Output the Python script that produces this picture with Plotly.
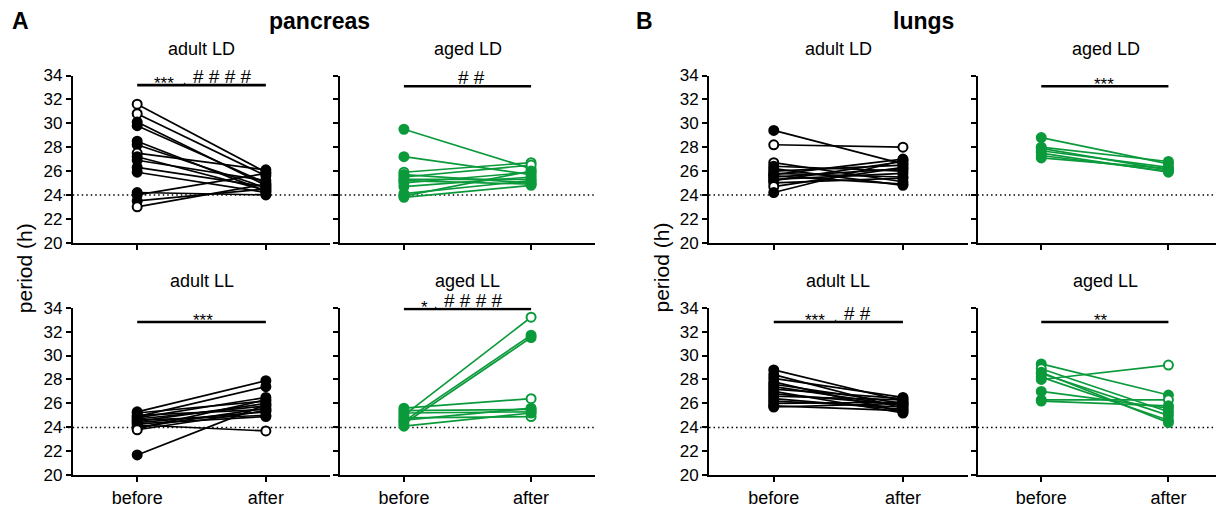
import plotly.graph_objects as go

W, H = 1224, 511
BLACK = "#000000"
GREEN = "#0b9a3b"
FONT = "Arial, Liberation Sans, sans-serif"

# ---------------- data (period, h) ----------------
categories = ["before", "after"]
y_ticks = [20, 22, 24, 26, 28, 30, 32, 34]

# pancreas adult LD
p_adult_ld_before = [31.6, 30.8, 30.1, 29.8, 28.5, 28.2, 27.5, 27.2, 26.9, 26.3, 25.9, 24.2, 24.0, 23.5, 23.0]
p_adult_ld_after = [25.9, 25.6, 24.8, 25.0, 24.3, 24.6, 26.1, 24.4, 25.2, 24.7, 24.2, 24.0, 25.8, 24.5, 24.9]
p_adult_ld_open_before = [1, 1, 0, 0, 0, 0, 1, 0, 0, 0, 0, 0, 0, 0, 1]
p_adult_ld_open_after = [0] * 15

# pancreas aged LD
p_aged_ld_before = [29.5, 27.2, 25.9, 25.7, 25.5, 25.3, 25.2, 25.0, 24.7, 24.1, 23.9, 23.8]
p_aged_ld_after = [26.2, 25.7, 26.7, 25.0, 26.5, 25.3, 24.9, 25.9, 25.5, 25.2, 26.0, 24.8]
p_aged_ld_open_before = [0, 0, 1, 0, 0, 0, 0, 0, 0, 0, 0, 0]
p_aged_ld_open_after = [0, 0, 1, 0, 1, 0, 0, 0, 0, 0, 0, 0]

# pancreas adult LL
p_adult_ll_before = [25.3, 25.2, 25.0, 24.9, 24.8, 24.7, 24.6, 24.5, 24.4, 24.3, 24.2, 24.0, 23.9, 23.8, 21.7]
p_adult_ll_after = [27.9, 26.2, 25.5, 27.4, 26.5, 25.8, 25.0, 26.0, 25.3, 24.9, 23.7, 25.6, 26.3, 25.4, 25.9]
p_adult_ll_open_before = [0, 0, 0, 0, 0, 0, 0, 0, 0, 0, 0, 0, 0, 1, 0]
p_adult_ll_open_after = [0, 0, 0, 0, 0, 0, 0, 0, 0, 0, 1, 0, 0, 0, 0]

# pancreas aged LL
p_aged_ll_before = [25.0, 24.5, 24.3, 25.6, 25.4, 25.2, 24.8, 24.6, 24.1]
p_aged_ll_after = [33.2, 31.7, 31.5, 26.4, 25.5, 25.3, 24.9, 25.6, 25.2]
p_aged_ll_open_before = [0] * 9
p_aged_ll_open_after = [1, 0, 0, 1, 0, 0, 1, 0, 0]

# lungs adult LD
l_adult_ld_before = [29.4, 28.2, 26.7, 26.4, 26.2, 26.0, 25.8, 25.7, 25.6, 25.5, 25.3, 25.2, 25.0, 24.7, 24.2]
l_adult_ld_after = [26.6, 28.0, 25.1, 26.0, 24.8, 26.5, 25.5, 27.0, 24.9, 26.2, 25.8, 26.8, 25.4, 26.3, 26.9]
l_adult_ld_open_before = [0, 1, 1, 0, 0, 0, 0, 0, 0, 0, 0, 0, 0, 1, 0]
l_adult_ld_open_after = [0, 1, 0, 0, 0, 0, 0, 0, 0, 0, 0, 0, 0, 0, 0]

# lungs aged LD
l_aged_ld_before = [28.8, 28.0, 27.9, 27.7, 27.5, 27.3, 27.1]
l_aged_ld_after = [26.6, 26.8, 26.1, 26.3, 25.9, 26.0, 26.2]
l_aged_ld_open_before = [0] * 7
l_aged_ld_open_after = [0] * 7

# lungs adult LL
l_adult_ll_before = [28.8, 28.4, 28.1, 27.8, 27.6, 27.4, 27.2, 27.0, 26.8, 26.6, 26.4, 26.2, 26.0, 25.8, 25.7]
l_adult_ll_after = [26.2, 25.6, 26.5, 25.3, 26.0, 25.8, 26.4, 25.2, 25.9, 26.3, 25.5, 25.7, 26.1, 25.4, 26.0]
l_adult_ll_open_before = [0] * 15
l_adult_ll_open_after = [0] * 15

# lungs aged LL
l_aged_ll_before = [29.3, 28.9, 28.5, 28.2, 28.0, 27.0, 26.3, 26.2, 28.6]
l_aged_ll_after = [26.7, 25.3, 25.0, 24.6, 29.2, 25.6, 26.3, 25.8, 24.4]
l_aged_ll_open_before = [0, 1, 0, 0, 0, 0, 1, 0, 0]
l_aged_ll_open_after = [0, 0, 0, 0, 1, 0, 1, 0, 0]

# significance labels (stars, hashes) and bar heights (h)
sig_labels = {
    "p_adult_ld": ("***", "# # # #"),
    "p_aged_ld": ("", "# #"),
    "p_adult_ll": ("***", ""),
    "p_aged_ll": ("*", "# # # #"),
    "l_adult_ld": None,
    "l_aged_ld": ("***", ""),
    "l_adult_ll": ("***", "# #"),
    "l_aged_ll": ("**", ""),
}
sig_bar_y = {
    "p_adult_ld": 33.2, "p_aged_ld": 33.1, "p_adult_ll": 32.8, "p_aged_ll": 33.9,
    "l_aged_ld": 33.1, "l_adult_ll": 32.8, "l_aged_ll": 32.8,
}
# label part positions along the bar (x in axis units): stars, comma, hashes
sig_pos = {
    "p_adult_ld": (0.21, 0.37, 0.66),
    "p_aged_ld": (None, None, 0.53),
    "p_adult_ll": (0.51, None, None),
    "p_aged_ll": (0.16, 0.25, 0.55),
    "l_aged_ld": (0.49, None, None),
    "l_adult_ll": (0.32, 0.48, 0.65),
    "l_aged_ll": (0.47, None, None),
}

# ---------------- layout geometry (target pixels) ----------------
col_px = [(72, 326), (336, 587), (700, 955), (965, 1218)]
row_px = [(74, 242.5), (308, 477)]

# the page shows the figure with a small offset/shrink; map target px -> paper
OX, OY, RW, RH = 8.0, 15.0, 1208.0, 496.0


def fx(t):
    return min(1.0, max(0.0, (t - OX) / RW))


def fy(t):
    return min(1.0, max(0.0, 1 - (t - OY) / RH))


panels = [
    ("p_adult_ld", "adult LD", 0, 0, BLACK, p_adult_ld_before, p_adult_ld_after, p_adult_ld_open_before, p_adult_ld_open_after),
    ("p_aged_ld", "aged LD", 1, 0, GREEN, p_aged_ld_before, p_aged_ld_after, p_aged_ld_open_before, p_aged_ld_open_after),
    ("p_adult_ll", "adult LL", 0, 1, BLACK, p_adult_ll_before, p_adult_ll_after, p_adult_ll_open_before, p_adult_ll_open_after),
    ("p_aged_ll", "aged LL", 1, 1, GREEN, p_aged_ll_before, p_aged_ll_after, p_aged_ll_open_before, p_aged_ll_open_after),
    ("l_adult_ld", "adult LD", 2, 0, BLACK, l_adult_ld_before, l_adult_ld_after, l_adult_ld_open_before, l_adult_ld_open_after),
    ("l_aged_ld", "aged LD", 3, 0, GREEN, l_aged_ld_before, l_aged_ld_after, l_aged_ld_open_before, l_aged_ld_open_after),
    ("l_adult_ll", "adult LL", 2, 1, BLACK, l_adult_ll_before, l_adult_ll_after, l_adult_ll_open_before, l_adult_ll_open_after),
    ("l_aged_ll", "aged LL", 3, 1, GREEN, l_aged_ll_before, l_aged_ll_after, l_aged_ll_open_before, l_aged_ll_open_after),
]

fig = go.Figure()
annotations = []
shapes = []
layout = {}

for i, (key, sub, col, row, color, bef, aft, ob, oa) in enumerate(panels, start=1):
    xa = "x" if i == 1 else f"x{i}"
    ya = "y" if i == 1 else f"y{i}"
    xname = "xaxis" if i == 1 else f"xaxis{i}"
    yname = "yaxis" if i == 1 else f"yaxis{i}"

    lx, ly = [], []
    for b, a in zip(bef, aft):
        lx += [0, 1, None]
        ly += [b, a, None]
    fig.add_trace(go.Scatter(x=lx, y=ly, mode="lines", xaxis=xa, yaxis=ya,
                             line=dict(color=color, width=1.7), showlegend=False, hoverinfo="skip"))
    mx = [0] * len(bef) + [1] * len(aft)
    my = list(bef) + list(aft)
    opn = list(ob) + list(oa)
    fills = ["white" if o else color for o in opn]
    fig.add_trace(go.Scatter(x=mx, y=my, mode="markers", xaxis=xa, yaxis=ya,
                             marker=dict(size=9, color=fills, line=dict(color=color, width=2)),
                             showlegend=False))

    bottom = row == 1
    adult = col in (0, 2)
    x0p, x1p = col_px[col]
    t0, t1 = row_px[row]
    layout[xname] = dict(
        domain=[fx(x0p), fx(x1p)], anchor=ya, range=[-0.5, 1.5],
        tickvals=[0, 1], ticktext=categories, showticklabels=bottom,
        ticks="outside", ticklen=5, tickwidth=2, tickcolor=BLACK,
        showline=True, linecolor=BLACK, linewidth=2, showgrid=False, zeroline=False,
        tickfont=dict(size=18, color=BLACK, family=FONT),
    )
    layout[yname] = dict(
        domain=[fy(t1), fy(t0)], anchor=xa, range=[20, 34],
        tickvals=y_ticks, showticklabels=adult,
        ticks="outside", ticklen=5, tickwidth=2, tickcolor=BLACK,
        showline=True, linecolor=BLACK, linewidth=2, showgrid=False, zeroline=False,
        tickfont=dict(size=17, color=BLACK, family=FONT),
    )

    shapes.append(dict(type="line", xref="paper", yref=ya, x0=fx(x0p - 9), x1=fx(x1p),
                       y0=24, y1=24, layer="below",
                       line=dict(color=BLACK, width=1.5, dash="1.5px,3px")))

    cx = fx((x0p + x1p) / 2)
    sy = fy(47 if row == 0 else 281)
    annotations.append(dict(text=sub, x=cx, y=sy, xref="paper", yref="paper", showarrow=False,
                            font=dict(size=18, color=BLACK, family=FONT), xanchor="center", yanchor="middle"))

    lab = sig_labels[key]
    if lab is not None:
        by = sig_bar_y[key]
        shapes.append(dict(type="line", xref=xa, yref=ya, x0=0, x1=1, y0=by, y1=by,
                           line=dict(color=BLACK, width=2.7)))
        stars, hashes = lab
        sx, cxm, hx = sig_pos[key]
        if stars:
            annotations.append(dict(text=stars, x=sx, y=by, xref=xa, yref=ya, showarrow=False,
                                    xanchor="center", yanchor="bottom", yshift=-10,
                                    font=dict(size=17, color=BLACK, family=FONT)))
        if stars and hashes:
            annotations.append(dict(text=",", x=cxm, y=by, xref=xa, yref=ya, showarrow=False,
                                    xanchor="center", yanchor="bottom", yshift=-3,
                                    font=dict(size=11, color=BLACK, family=FONT)))
        if hashes:
            annotations.append(dict(text=hashes, x=hx, y=by, xref=xa, yref=ya, showarrow=False,
                                    xanchor="center", yanchor="bottom", yshift=-4,
                                    font=dict(size=19, color=BLACK, family=FONT)))

for txt, px in [("A", 20), ("pancreas", 315), ("B", 636), ("lungs", 912)]:
    annotations.append(dict(text=f"<b>{txt}</b>", x=fx(px), y=fy(19), xref="paper", yref="paper",
                            showarrow=False, xanchor="center", yanchor="middle",
                            font=dict(size=23, color=BLACK, family=FONT)))
for px in [25, 653]:
    annotations.append(dict(text="period (h)", x=fx(px), y=fy(268), xref="paper", yref="paper",
                            showarrow=False, textangle=-90, xanchor="center", yanchor="middle",
                            font=dict(size=21, color=BLACK, family=FONT)))

fig.update_layout(
    width=W, height=H, margin=dict(l=0, r=0, t=0, b=0),
    plot_bgcolor="white", paper_bgcolor="white",
    annotations=annotations, shapes=shapes, showlegend=False,
    font=dict(family=FONT, color=BLACK),
    **layout,
)

fig.write_html("out.html")
